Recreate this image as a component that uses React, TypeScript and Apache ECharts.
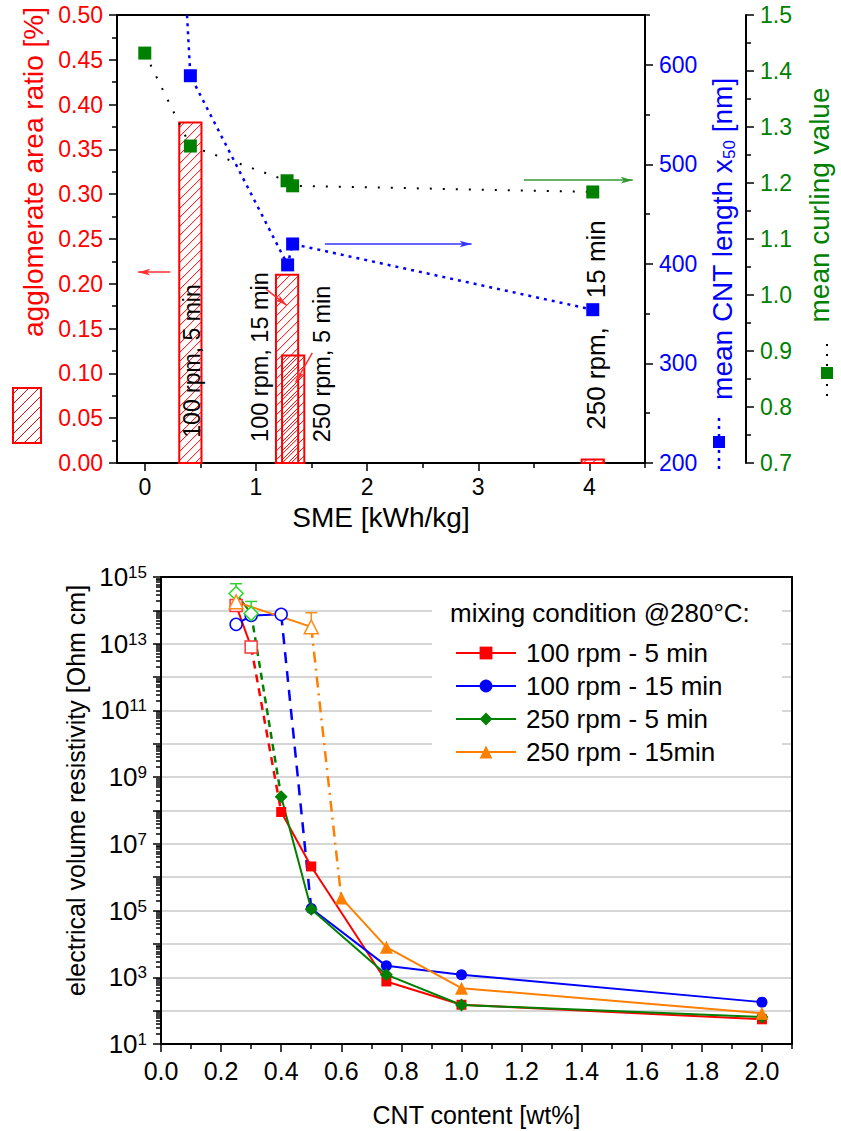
import React, { useEffect, useRef } from "react";
import * as echarts from "echarts";

const FONT = '"Liberation Sans", Arial, Helvetica, sans-serif';

// ---------------- Top panel data ----------------
const smeMajorTicks = [0, 1, 2, 3, 4];
const smeMinorTicks = [0.5, 1.5, 2.5, 3.5, 4.5];
const ratioSME = [0.41, 1.28, 1.335, 4.03];
const ratioWidth = [0.2, 0.2, 0.2, 0.2];
const ratioValue = [0.38, 0.21, 0.12, 0.004];
const barLabels = ["100 rpm, 5 min", "100 rpm, 15 min", "250 rpm, 5 min", "250 rpm,\u00a0\u00a0\u00a0 15 min"];
const lengthSME = [0, 0.41, 1.285, 1.33, 4.03];
const lengthValue = [1420, 589, 399, 420, 354];
const curlSME = [0, 0.41, 1.28, 1.33, 4.03];
const curlValue = [1.432, 1.266, 1.204, 1.195, 1.184];
const lengthMajorTicks = [200, 300, 400, 500, 600];
const lengthMinorTicks = [250, 350, 450, 550, 650];

// annotation arrows (data coordinates)
const redArrowAxis = [[0.23, 0.213], [-0.06, 0.213]];
const redArrowBar2 = [[1.09, 0.194], [1.277, 0.176]];
const redArrowBar3 = [[1.507, 0.123], [1.356, 0.09]];
const blueArrow = [[1.62, 420], [2.94, 420]];
const greenArrow = [[3.41, 1.205], [4.39, 1.205]];

// ---------------- Bottom panel data ----------------
const legendNames = ["100 rpm - 5 min", "100 rpm - 15 min", "250 rpm - 5 min", "250 rpm - 15min"];
const cntContent = [0.25, 0.3, 0.4, 0.5, 0.75, 1.0, 2.0];
const cntContent250x15 = [0.25, 0.5, 0.6, 0.75, 1.0, 2.0];
const res100x5 = [1.4e14, 8e12, 9e7, 2.1e6, 750, 150, 55];
const res100x15 = [3.8e13, 7e13, 7.6e13, 1.15e5, 2.2e3, 1.2e3, 180];
const res250x5 = [3.2e14, 8e13, 2.6e8, 1.1e5, 1.2e3, 148, 65];
const res250x15 = [1.8e14, 3.2e13, 2.4e5, 8e3, 470, 83];
const openCount = [2, 3, 2, 2]; // non-percolated (open symbol) points per condition
const err250x5X = [0.25, 0.3];
const err250x5Top = [6.3e14, 1.85e14];
const err250x15X = [0.5];
const err250x15Top = [8.5e13];
const cntMajorTicks = [0, 0.2, 0.4, 0.6, 0.8, 1.0, 1.2, 1.4, 1.6, 1.8, 2.0];
const cntMinorTicks = [0.1, 0.3, 0.5, 0.7, 0.9, 1.1, 1.3, 1.5, 1.7, 1.9, 2.1];
const decadeMin = 1;
const decadeMax = 15;

const lg = (v: number) => Math.log10(v);

function hatch(x0: number, y0: number, x1: number, y1: number, step: number, color: string, z?: number) {
  const out: any[] = [];
  const cMin = x0 + y0;
  const cMax = x1 + y1;
  for (let c = cMin + step * 0.6; c < cMax; c += step) {
    const lo = Math.max(x0, c - y1);
    const hi = Math.min(x1, c - y0);
    if (hi - lo > 0.5) {
      const el: any = {
        type: "line",
        shape: { x1: lo, y1: c - lo, x2: hi, y2: c - hi },
        style: { stroke: color, lineWidth: 1 },
        silent: true,
      };
      if (z != null) el.z = z;
      out.push(el);
    }
  }
  return out;
}

function buildOption() {
  const tickStyle = { color: "#000", width: 1.5 };
  const blackLine = { show: true, onZero: false, lineStyle: { color: "#000", width: 2 } };
  const noLine = { show: false, onZero: false };
  const off = { show: false };

  // minor log ticks
  const logMinor: number[] = [];
  for (let n = decadeMin; n < decadeMax; n++) {
    for (let k = 2; k <= 9; k++) logMinor.push(n + Math.log10(k));
  }

  const series: any[] = [];

  // ---- top: agglomerate bars (hatched) ----
  series.push({
    type: "custom",
    name: "agglomerate area ratio",
    xAxisIndex: 0,
    yAxisIndex: 0,
    encode: { x: 0, y: 1 },
    data: ratioSME.map((x, i) => [x, ratioValue[i], ratioWidth[i]]),
    z: 1,
    renderItem: (params: any, api: any) => {
      const xc = api.value(0);
      const h = api.value(1);
      const w = api.value(2);
      const pA = api.coord([xc - w / 2, 0]);
      const pB = api.coord([xc + w / 2, h]);
      const x0 = pA[0], x1 = pB[0], y0 = pB[1], y1 = pA[1];
      return {
        type: "group",
        children: [
          ...hatch(x0, y0, x1, y1, 9, "#ff0000"),
          {
            type: "rect",
            shape: { x: x0, y: y0, width: x1 - x0, height: y1 - y0 },
            style: { fill: "none", stroke: "#ff0000", lineWidth: 2 },
          },
        ],
      };
    },
  });

  // red arrows (on left axis)
  const arrowData = (seg: number[][]) => [
    { coord: seg[0], symbol: "none" },
    { coord: seg[1], symbol: "arrow", symbolSize: [5, 12] },
  ];
  series.push({
    type: "line",
    name: "red-arrows",
    xAxisIndex: 0,
    yAxisIndex: 0,
    data: [],
    z: 4,
    markLine: {
      silent: true,
      animation: false,
      symbol: ["none", "arrow"],
      label: { show: false },
      lineStyle: { type: "solid", width: 1.5, color: "#ff3030" },
      data: [arrowData(redArrowAxis), arrowData(redArrowBar2), arrowData(redArrowBar3)],
    },
  });

  series.push({
    type: "line",
    name: "mean CNT length",
    xAxisIndex: 0,
    yAxisIndex: 1,
    data: lengthSME.map((x, i) => [x, lengthValue[i]]),
    clip: true,
    z: 3,
    symbol: "rect",
    symbolSize: 13,
    itemStyle: { color: "#0000ff" },
    lineStyle: { color: "#0000ff", width: 2.5, type: [3, 5] },
    markLine: {
      silent: true,
      animation: false,
      symbol: ["none", "arrow"],
      label: { show: false },
      lineStyle: { type: "solid", width: 1.5, color: "#3333ff" },
      data: [arrowData(blueArrow)],
    },
  });

  series.push({
    type: "line",
    name: "mean curling value",
    xAxisIndex: 0,
    yAxisIndex: 2,
    data: curlSME.map((x, i) => [x, curlValue[i]]),
    clip: true,
    z: 3,
    symbol: "rect",
    symbolSize: 13,
    itemStyle: { color: "#008000" },
    lineStyle: { color: "#000", width: 2, type: [2, 11] },
    markLine: {
      silent: true,
      animation: false,
      symbol: ["none", "arrow"],
      label: { show: false },
      lineStyle: { type: "solid", width: 1.5, color: "#339933" },
      data: [arrowData(greenArrow)],
    },
  });

  // ---- bottom: resistivity ----
  const conds = [
    { name: legendNames[0], xs: cntContent, ys: res100x5, open: openCount[0], color: "#ff0000", openColor: "#ff3333", symbol: "rect", size: 10, openSize: 12, dash: [8, 6] },
    { name: legendNames[1], xs: cntContent, ys: res100x15, open: openCount[1], color: "#0000ff", openColor: "#0000ff", symbol: "circle", size: 11, openSize: 12, dash: [11, 8] },
    { name: legendNames[2], xs: cntContent, ys: res250x5, open: openCount[2], color: "#008000", openColor: "#22dd22", symbol: "diamond", size: 13, openSize: 14, dash: [7, 5] },
    { name: legendNames[3], xs: cntContent250x15, ys: res250x15, open: openCount[3], color: "#ff8000", openColor: "#ff8c1a", symbol: "triangle", size: 13, openSize: 14, dash: [11, 6, 2, 6] },
  ];

  // error bars
  const errSeries = (xs: number[], tops: number[], xsAll: number[], ysAll: number[], color: string) => ({
    type: "custom",
    name: "error",
    xAxisIndex: 3,
    yAxisIndex: 4,
    encode: { x: 0, y: [1, 2] },
    z: 2,
    data: xs.map((x, i) => [x, lg(ysAll[xsAll.indexOf(x)]), lg(tops[i])]),
    renderItem: (params: any, api: any) => {
      const a = api.coord([api.value(0), api.value(1)]);
      const b = api.coord([api.value(0), api.value(2)]);
      return {
        type: "group",
        children: [
          { type: "line", shape: { x1: a[0], y1: a[1], x2: b[0], y2: b[1] }, style: { stroke: color, lineWidth: 1.5 } },
          { type: "line", shape: { x1: b[0] - 6, y1: b[1], x2: b[0] + 6, y2: b[1] }, style: { stroke: color, lineWidth: 1.5 } },
        ],
      };
    },
  });
  series.push(errSeries(err250x5X, err250x5Top, cntContent, res250x5, "#33cc33"));
  series.push(errSeries(err250x15X, err250x15Top, cntContent250x15, res250x15, "#ff8c1a"));

  conds.forEach((c) => {
    const pts = c.xs.map((x, i) => [x, lg(c.ys[i])]);
    series.push({
      type: "line",
      name: c.name + " transition",
      xAxisIndex: 3,
      yAxisIndex: 4,
      data: pts.slice(c.open - 1, c.open + 1),
      symbol: "none",
      z: 2,
      lineStyle: { color: c.color, width: 2.5, type: c.dash },
    });
  });
  conds.forEach((c) => {
    const pts = c.xs.map((x, i) => [x, lg(c.ys[i])]);
    series.push({
      type: "line",
      name: c.name + " non-percolated",
      xAxisIndex: 3,
      yAxisIndex: 4,
      data: pts.slice(0, c.open),
      symbol: c.symbol,
      symbolSize: c.openSize,
      z: 3,
      itemStyle: { color: "#ffffff", borderColor: c.openColor, borderWidth: 1.5 },
      lineStyle: { color: c.color, width: 2, type: "solid" },
    });
  });
  conds.forEach((c) => {
    const pts = c.xs.map((x, i) => [x, lg(c.ys[i])]);
    series.push({
      type: "line",
      name: c.name,
      xAxisIndex: 3,
      yAxisIndex: 4,
      data: pts.slice(c.open),
      symbol: c.symbol,
      symbolSize: c.size,
      z: 4,
      itemStyle: { color: c.color },
      lineStyle: { color: c.color, width: 2, type: "solid" },
    });
  });

  // ---- graphic decorations ----
  const graphics: any[] = [];
  // white legend background
  graphics.push({ type: "rect", z: 1, silent: true, shape: { x: 432, y: 590, width: 350, height: 176 }, style: { fill: "#ffffff" } });
  graphics.push({
    type: "text",
    z: 6,
    x: 450,
    y: 613,
    style: { text: "mixing condition @280°C:", font: `26px ${FONT}`, fill: "#000", textAlign: "left", textVerticalAlign: "middle" },
  });
  // hatched legend key for agglomerate bars
  graphics.push(...hatch(13, 388, 41, 443, 10, "#ff0000", 5));
  graphics.push({ type: "rect", z: 5, shape: { x: 13, y: 388, width: 28, height: 55 }, style: { fill: "none", stroke: "#ff0000", lineWidth: 2 } });
  // blue legend key
  graphics.push({ type: "line", z: 5, shape: { x1: 719, y1: 418, x2: 719, y2: 470 }, style: { stroke: "#0000ff", lineWidth: 2.5, lineDash: [3, 5] } });
  graphics.push({ type: "rect", z: 6, shape: { x: 713, y: 436, width: 12, height: 12 }, style: { fill: "#0000ff" } });
  // green legend key
  graphics.push({ type: "line", z: 5, shape: { x1: 827, y1: 344, x2: 827, y2: 404 }, style: { stroke: "#000", lineWidth: 2, lineDash: [2, 8] } });
  graphics.push({ type: "rect", z: 6, shape: { x: 821, y: 367, width: 12, height: 12 }, style: { fill: "#008000" } });
  // bar annotations
  const annPos = [[192, 361], [260, 357], [322, 364], [596, 325]];
  const annSize = [23, 23.5, 23.5, 26];
  barLabels.forEach((t, i) => {
    graphics.push({
      type: "text",
      z: 6,
      x: annPos[i][0],
      y: annPos[i][1],
      rotation: Math.PI / 2,
      style: { text: t, font: `${annSize[i]}px ${FONT}`, fill: "#000", textAlign: "center", textVerticalAlign: "middle" },
    });
  });

  const supRich = {
    b: { fontSize: 26, fontFamily: FONT, color: "#000" },
    s: { fontSize: 17, fontFamily: FONT, color: "#000", verticalAlign: "top" },
  };

  return {
    animation: false,
    backgroundColor: "#ffffff",
    textStyle: { fontFamily: FONT },
    grid: [
      { left: 117, top: 15, width: 536, height: 448 },
      { left: 161, top: 577, width: 631, height: 467 },
    ],
    legend: {
      data: legendNames,
      orient: "vertical",
      left: 450,
      top: 635,
      itemWidth: 60,
      itemHeight: 16,
      itemGap: 7,
      selectedMode: false,
      z: 6,
      textStyle: { fontSize: 26, fontFamily: FONT, color: "#000", lineHeight: 26, padding: [0, 0, 0, 5] },
    },
    xAxis: [
      {
        type: "value", gridIndex: 0, min: -0.25, max: 4.5, position: "bottom",
        axisLine: blackLine,
        axisTick: { show: true, inside: false, length: 8, lineStyle: tickStyle, customValues: smeMajorTicks },
        axisLabel: { show: true, customValues: smeMajorTicks, margin: 12, fontSize: 23, color: "#000", fontFamily: FONT },
        splitLine: off,
        name: "SME [kWh/kg]", nameLocation: "middle", nameGap: 40,
        nameTextStyle: { fontSize: 28, color: "#000", fontFamily: FONT },
      },
      {
        type: "value", gridIndex: 0, min: -0.25, max: 4.5, position: "bottom",
        axisLine: noLine,
        axisTick: { show: true, inside: false, length: 5, lineStyle: tickStyle, customValues: smeMinorTicks },
        axisLabel: off, splitLine: off,
      },
      {
        type: "value", gridIndex: 0, min: -0.25, max: 4.5, position: "top",
        axisLine: blackLine, axisTick: off, axisLabel: off, splitLine: off,
      },
      {
        type: "value", gridIndex: 1, min: 0, max: 2.1, position: "bottom",
        axisLine: blackLine,
        axisTick: { show: true, inside: false, length: 8, lineStyle: tickStyle, customValues: cntMajorTicks },
        axisLabel: { show: true, customValues: cntMajorTicks, formatter: (v: number) => v.toFixed(1), margin: 14, fontSize: 25, color: "#000", fontFamily: FONT },
        splitLine: off,
        name: "CNT content [wt%]", nameLocation: "middle", nameGap: 58,
        nameTextStyle: { fontSize: 25, color: "#000", fontFamily: FONT },
      },
      {
        type: "value", gridIndex: 1, min: 0, max: 2.1, position: "bottom",
        axisLine: noLine,
        axisTick: { show: true, inside: false, length: 5, lineStyle: tickStyle, customValues: cntMinorTicks },
        axisLabel: off, splitLine: off,
      },
      {
        type: "value", gridIndex: 1, min: 0, max: 2.1, position: "top",
        axisLine: blackLine, axisTick: off, axisLabel: off, splitLine: off,
      },
    ],
    yAxis: [
      {
        type: "value", gridIndex: 0, position: "left", min: 0, max: 0.5, interval: 0.05,
        axisLine: blackLine,
        axisTick: { show: true, inside: false, length: 8, lineStyle: tickStyle },
        minorTick: { show: true, splitNumber: 2, length: 5, lineStyle: tickStyle },
        axisLabel: { formatter: (v: number) => v.toFixed(2), color: "#ff0000", fontSize: 23, margin: 14, fontFamily: FONT },
        splitLine: off, minorSplitLine: off,
        name: "agglomerate area ratio [%]", nameLocation: "middle", nameGap: 64,
        nameTextStyle: { fontSize: 28, color: "#ff0000", fontFamily: FONT, padding: [0, 0, 0, 134] },
      },
      {
        type: "value", gridIndex: 0, position: "right", offset: 0, min: 200, max: 650,
        axisLine: blackLine,
        axisTick: { show: true, inside: false, length: 8, lineStyle: tickStyle, customValues: lengthMajorTicks },
        axisLabel: { customValues: lengthMajorTicks, color: "#0000ff", fontSize: 23, margin: 14, fontFamily: FONT },
        splitLine: off,
        name: "mean CNT length x{s|50} [nm]", nameLocation: "middle", nameGap: 56,
        nameTextStyle: {
          fontSize: 28, color: "#0000ff", fontFamily: FONT,
          rich: { s: { fontSize: 17, color: "#0000ff", fontFamily: FONT, padding: [14, 0, 0, 0] } },
        },
      },
      {
        type: "value", gridIndex: 0, position: "right", offset: 101, min: 0.7, max: 1.5, interval: 0.1,
        axisLine: blackLine,
        axisTick: { show: true, inside: false, length: 8, lineStyle: tickStyle },
        minorTick: { show: true, splitNumber: 2, length: 5, lineStyle: tickStyle },
        axisLabel: { formatter: (v: number) => v.toFixed(1), color: "#008000", fontSize: 23, margin: 14, fontFamily: FONT },
        splitLine: off, minorSplitLine: off,
        name: "mean curling value", nameLocation: "middle", nameGap: 59,
        nameTextStyle: { fontSize: 28, color: "#008000", fontFamily: FONT, padding: [0, 0, 0, 68] },
      },
      {
        type: "value", gridIndex: 0, position: "right", offset: 0, min: 200, max: 650,
        axisLine: noLine,
        axisTick: { show: true, inside: false, length: 5, lineStyle: tickStyle, customValues: lengthMinorTicks },
        axisLabel: off, splitLine: off,
      },
      {
        type: "value", gridIndex: 1, position: "left", min: decadeMin, max: decadeMax, interval: 1,
        axisLine: blackLine,
        axisTick: { show: true, inside: false, length: 8, lineStyle: tickStyle },
        axisLabel: {
          margin: 14,
          formatter: (v: number) => {
            const n = Math.round(v);
            return n % 2 === 1 ? `{b|10}{s|${n}}` : "";
          },
          rich: supRich,
        },
        splitLine: { show: true, lineStyle: { color: "#c8c8c8", width: 1.5 } },
        name: "electrical volume resistivity [Ohm cm]", nameLocation: "middle", nameGap: 68,
        nameTextStyle: { fontSize: 25, color: "#000", fontFamily: FONT, padding: [0, 0, 0, 40] },
      },
      {
        type: "value", gridIndex: 1, position: "left", min: decadeMin, max: decadeMax,
        axisLine: noLine,
        axisTick: { show: true, inside: false, length: 5, lineStyle: tickStyle, customValues: logMinor },
        axisLabel: off, splitLine: off,
      },
      {
        type: "value", gridIndex: 1, position: "right", min: decadeMin, max: decadeMax,
        axisLine: blackLine, axisTick: off, axisLabel: off, splitLine: off,
      },
    ],
    graphic: { elements: graphics },
    series,
  };
}

export default function App() {
  const ref = useRef<HTMLDivElement>(null);
  useEffect(() => {
    document.body.style.margin = "0";
    const chart = echarts.init(ref.current as HTMLDivElement, null, { renderer: "svg" });
    chart.setOption(buildOption() as any);
    return () => chart.dispose();
  }, []);
  return <div ref={ref} style={{ width: 841, height: 1131 }} />;
}
